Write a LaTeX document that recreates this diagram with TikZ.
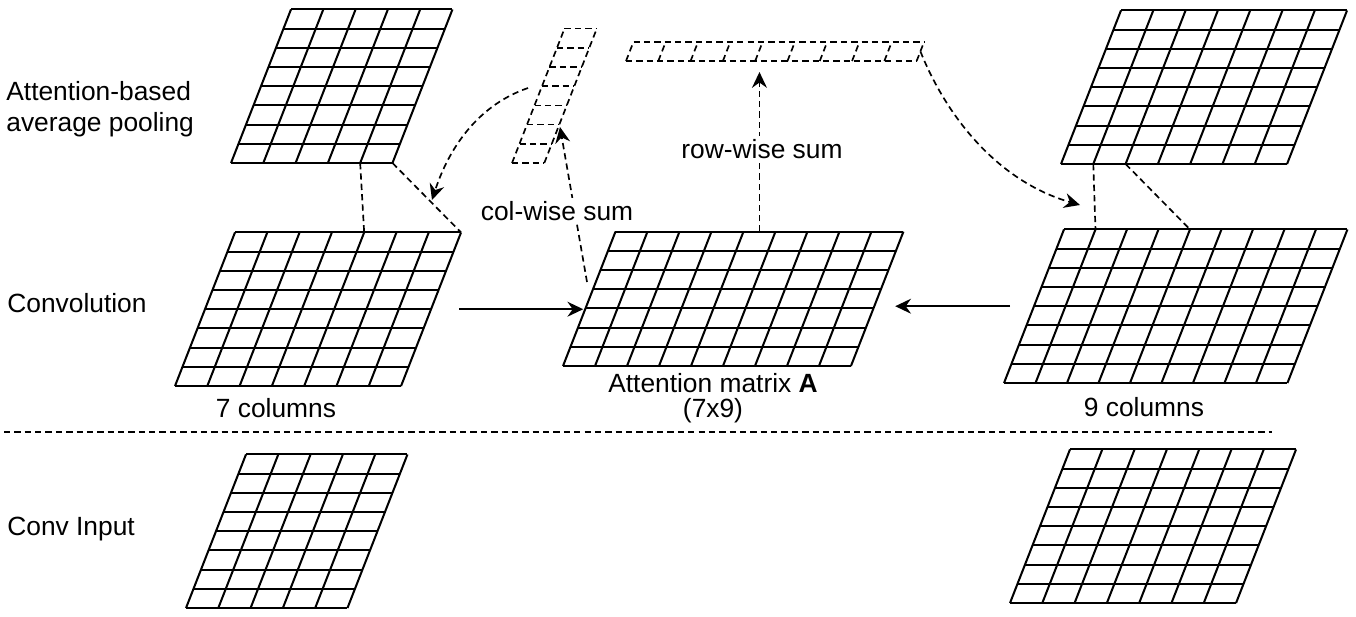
\documentclass[tikz,border=0pt]{standalone}
\usepackage{fontspec}
\setmainfont{Liberation Sans}
\usetikzlibrary{arrows.meta, positioning, calc}

% skewed cell grid: [scope opts]{name}{x lower left}{y lower edge}{columns}{rows}
\newcommand{\skewgrid}[6][]{%
  \begin{scope}[shift={(#3,#4)}, x={(0.646cm,0cm)}, y={(0.15cm,0.384cm)}, cell, #1]
    \foreach \i in {0,...,#6} \draw (0,\i) -- (#5,\i);
    \foreach \j in {0,...,#5} \draw (\j,0) -- (\j,#6);
    \foreach \j in {0,...,#5} {
      \coordinate (#2-b\j) at (\j,0);
      \coordinate (#2-t\j) at (\j,#6);
    }
    \coordinate (#2-w) at (0,#6/2);
    \coordinate (#2-e) at (#5,#6/2);
    \coordinate (#2-n) at (#5/2,#6);
    \coordinate (#2-s) at (#5/2,0);
  \end{scope}}

\begin{document}
\begin{tikzpicture}[
  x=0.02cm, y=-0.02cm,
  cell/.style={line width=1.15pt},
  dsh/.style={line width=0.95pt, dash pattern=on 3.6pt off 2.3pt},
  arr/.style={line width=1pt, -{Stealth[length=9pt, width=8.5pt, inset=3pt]}},
  lbl/.style={font=\fontsize{15}{18}\selectfont, inner sep=0pt, align=center},
]
\useasboundingbox (0,0) rectangle (1356,616);

% grids
\skewgrid{poolL}{231}{163}{5}{8}
\skewgrid{convL}{175}{386}{7}{8}
\skewgrid[x={(0.64cm,0cm)}]{attn}{563}{366}{9}{7}
\skewgrid{poolR}{1061}{164}{7}{8}
\skewgrid[x={(0.63cm,0cm)}]{convR}{1004}{383}{9}{8}
\skewgrid{inL}{186}{608}{5}{8}
\skewgrid{inR}{1010}{603}{7}{8}
\skewgrid[dsh]{colbar}{512}{163}{1}{7}
\skewgrid[dsh]{rowbar}{626}{61}{9}{1}

% pooling links
\draw[dsh] (poolL-b4) -- (convL-t4);
\draw[dsh] (poolL-b5) -- (convL-t7);
\draw[dsh] (poolR-b1) -- (convR-t1);
\draw[dsh] (poolR-b2) -- (convR-t4);

\draw[arr] ($(convL-e)+(28,0)$) -- ($(attn-w |- convL-e)+(-6,0)$);
\draw[arr] ($(convR-w)+(-24,0)$) -- ($(attn-e |- convR-w)+(18,0)$);

% sums
\coordinate (colsrc) at (587,282);
\coordinate (coltip) at (560,127);
\draw[arr, dsh] (attn-n) -- ($(attn-n |- rowbar-s)+(0,11)$);
\draw[arr, dsh] (colsrc) -- (coltip);
\node[lbl, fill=white, inner sep=2pt] (rowlbl) at (762,149) {row-wise sum};
\node[lbl, fill=white, inner sep=2pt] (collbl) at (557,211) {col-wise sum};

\coordinate (colout) at (528,88);
\coordinate (poolLin) at (432,200);
\coordinate (poolRin) at (1080,205);
\draw[arr, dsh] (colout) .. controls (470,108) and (445,160) .. (poolLin);
\draw[arr, dsh] (rowbar-e) .. controls (948,120) and (1000,182) .. (poolRin);

% separator
\coordinate (sepL) at (4,432);
\coordinate (sepR) at (1272,432);
\draw[dsh] (sepL) -- (sepR);

% labels
\node[lbl, anchor=west, align=left] (poollbl) at (6,109) {Attention-based\\average pooling};
\node[lbl, anchor=west] (convlbl) at (7,303) {Convolution};
\node[lbl, anchor=west] (inlbl) at (7,529) {Conv Input};
\node[lbl] (colsL) at (276,408) {7 columns};
\node[lbl] (colsR) at (1144,407) {9 columns};
\node[lbl, font=\fontsize{15}{14}\selectfont] (attnlbl) at (713,398) {Attention matrix \textbf{A}\\(7x9)};
\end{tikzpicture}
\end{document}
